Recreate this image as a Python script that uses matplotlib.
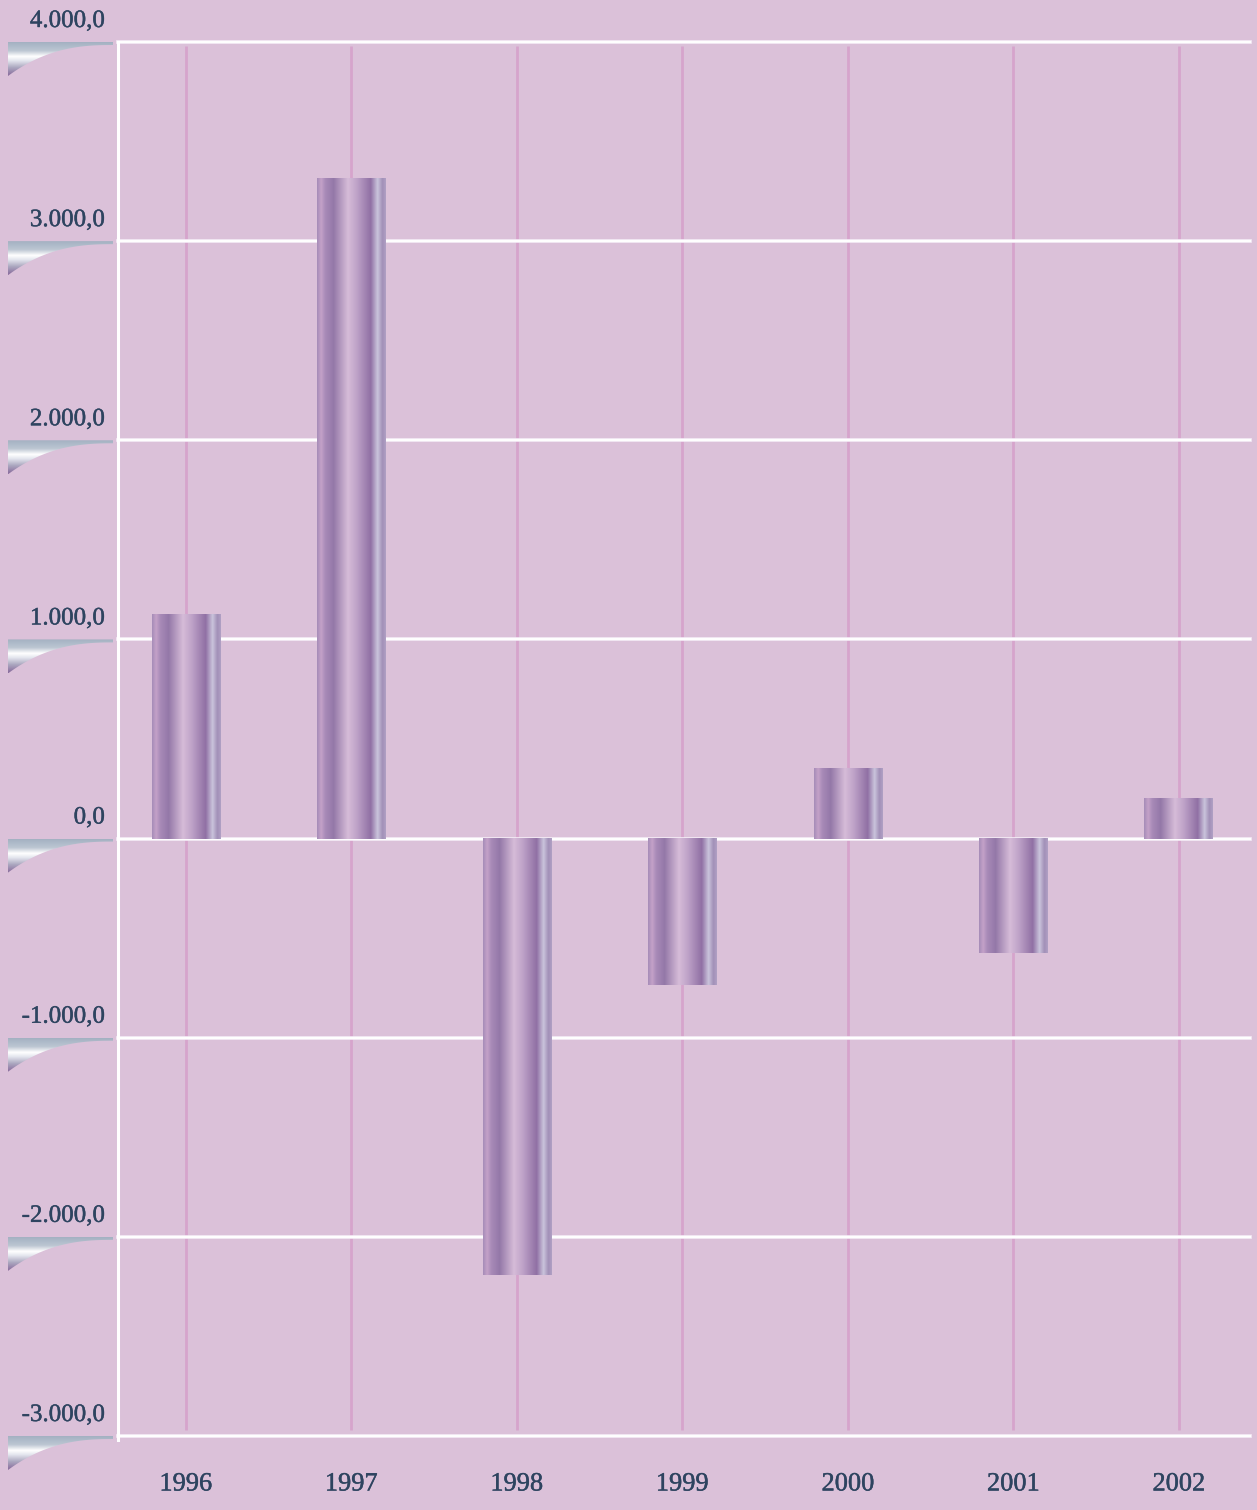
import numpy as np
import matplotlib
matplotlib.use("Agg")
import matplotlib.pyplot as plt
import matplotlib.patheffects as pe
from matplotlib.colors import LinearSegmentedColormap
from matplotlib.path import Path
from matplotlib.patches import PathPatch

years = ["1996", "1997", "1998", "1999", "2000", "2001", "2002"]
values = [1128, 3317, -2191, -735, 355, -574, 204]
y_ticks = [4000, 3000, 2000, 1000, 0, -1000, -2000, -3000]
y_labels = ["4.000,0", "3.000,0", "2.000,0", "1.000,0", "0,0",
            "-1.000,0", "-2.000,0", "-3.000,0"]

bg = "#dbc1d9"
text_col = "#2e4460"
W, H = 1257, 1510
thick = [pe.withStroke(linewidth=0.3, foreground=text_col)]

fig = plt.figure(figsize=(W / 100, H / 100), dpi=100, facecolor=bg)
ax = fig.add_axes([118 / W, 1 - 1436 / H, (1250 - 118) / W, (1436 - 42) / H])
ax.set_facecolor(bg)

# metallic gradient across each bar
bar_cmap = LinearSegmentedColormap.from_list("bar", [
    (0.00, "#a68cb8"), (0.06, "#c4a2c8"), (0.12, "#a88ab8"),
    (0.24, "#9478a8"), (0.45, "#d6bcd8"), (0.58, "#bea2c8"),
    (0.78, "#9070a4"), (0.88, "#cac4dc"), (0.95, "#a290b8"),
    (1.00, "#b0a0c4")])
grad = np.linspace(0, 1, 256).reshape(1, -1)

x = np.arange(len(years))
bars = ax.bar(x, values, width=0.415, color="none", edgecolor="none", zorder=3)
for b in bars:
    x0, y0 = b.get_x(), b.get_y()
    ax.imshow(grad, cmap=bar_cmap, aspect="auto", zorder=3,
              extent=[x0, x0 + b.get_width(), y0, y0 + b.get_height()])

ax.set_xlim(-0.41, 6.43)
ax.set_ylim(-3000, 4000)
ax.set_aspect("auto")

# grid
ax.vlines(x, -2970, 3980, colors="#d6a4cc", linewidth=2, zorder=1)
for v in y_ticks:
    ax.axhline(v, color="#f6eef8", linewidth=2.6, zorder=2, clip_on=False)
    ax.axhline(v, color="#ffffff", linewidth=1.4, zorder=2, clip_on=False)

for s in ["top", "right", "bottom"]:
    ax.spines[s].set_visible(False)
ax.spines["left"].set_color("white")
ax.spines["left"].set_linewidth(2.2)
ax.spines["left"].set_bounds(-3020, 4000)

ax.set_xticks(x)
ax.set_xticklabels(years, fontfamily="Liberation Serif", fontsize=19,
                   color=text_col)
for lbl in ax.get_xticklabels():
    lbl.set_path_effects(thick)
ax.tick_params(axis="x", length=0, pad=27)
ax.set_yticks([])

# overlay in pixel coords for the ribbon markers and y labels
ov = fig.add_axes([0, 0, 1, 1])
ov.set_xlim(0, W)
ov.set_ylim(H, 0)
ov.axis("off")

rib_cmap = LinearSegmentedColormap.from_list("rib", [
    (0.00, "#a3b1c2"), (0.25, "#bcc6d2"), (0.42, "#ffffff"),
    (0.55, "#e4e6ee"), (0.75, "#aca8c0"), (1.00, "#86689a")])
vgrad = np.linspace(0, 1, 128).reshape(-1, 1)

for v, lab in zip(y_ticks, y_labels):
    yp = H - ax.transData.transform((0, v))[1]
    t = np.linspace(0, 1, 60)
    xs = 8 + 105 * t
    ys = yp + 3 + 31 * (1 - t) ** 2.5
    verts = [(8, yp)] + [(113, yp)] + list(zip(xs[::-1], ys[::-1])) + [(8, yp)]
    patch = PathPatch(Path(verts), facecolor="none", edgecolor="none")
    ov.add_patch(patch)
    im = ov.imshow(vgrad, cmap=rib_cmap, aspect="auto",
                   extent=[8, 113, yp + 34, yp])
    im.set_clip_path(patch)
    ov.text(105, yp - 21, lab, ha="right", va="center", fontsize=18,
            fontfamily="Liberation Serif", color=text_col, path_effects=thick)

ov.set_xlim(0, W)
ov.set_ylim(H, 0)

fig.savefig("out.png", dpi=100, facecolor=bg)
